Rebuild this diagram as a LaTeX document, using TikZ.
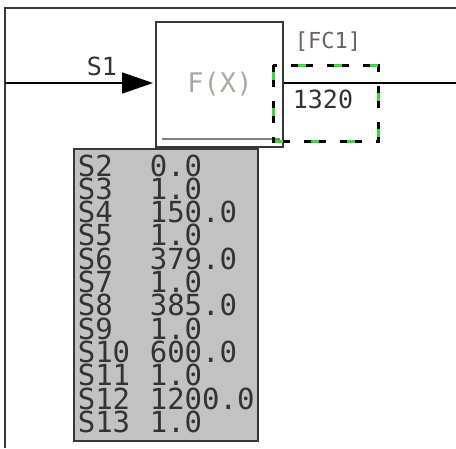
\documentclass[tikz,border=0pt]{standalone}
\usepackage{fontspec}
\newfontfamily\blockmono{DejaVu Sans Mono}
\usetikzlibrary{positioning,arrows.meta}
\definecolor{framegray}{HTML}{383838}
\definecolor{tablegray}{HTML}{C2C2C2}
\definecolor{fxgray}{HTML}{A8AAA0}
\definecolor{taggray}{HTML}{6A6068}
\definecolor{dashgreen}{HTML}{33DD33}
\tikzset{
  monotext/.style={font=\blockmono\fontsize{#1}{#1}\selectfont, inner sep=0pt},
  rowtext/.style={monotext=29, text=black!80, anchor=base west,
                  text height=21pt, text depth=0pt}
}

\begin{document}
\begin{tikzpicture}[x=1pt, y=-1pt, line width=1.6pt]
    \useasboundingbox (0,0) rectangle (456,448);
    % frame
    \draw[framegray, line width=2pt] (5,448) -- (5,8) -- (456,8);

    % function block
    \node[draw=framegray, line width=2pt, minimum width=127pt, minimum height=125pt,
          inner sep=0pt, anchor=north west] (fx) at (155,21) {};
    \node[monotext=27, text=fxgray] (fxlabel) at (220,84) {F(X)};
    \draw[gray, line width=2pt] (162,139) -- (280,139);

    % input and output
    \coordinate (in) at (5,83);
    \coordinate (out) at (456,83);
    \draw[-{Triangle[length=31pt,width=21pt]}, shorten >=2pt] (in) -- (fx.west |- in);
    \node[monotext=25, text=black!80] (s1) at (102,66) {S1};
    \draw (fx.east |- out) -- (out);

    % fc1 tag
    \node[minimum width=104pt, minimum height=75pt, inner sep=0pt,
          anchor=north west] (fc1) at (273,65) {};
    \draw[black, line width=3pt, dash pattern=on 22pt off 14pt] (fc1.north west) rectangle (fc1.south east);
    \draw[dashgreen, line width=3pt, dash pattern=on 8pt off 28pt, dash phase=29pt] (fc1.north west) rectangle (fc1.south east);
    \node[monotext=22, text=taggray] (fctag) at (328,42) {[FC1]};
    \node[monotext=25, text=black!80] (fcval) at (323,99) {1320};

    % parameter table
    \node[draw=framegray, fill=tablegray, line width=2pt, minimum width=184pt,
          minimum height=292pt, inner sep=0pt, anchor=north west] (params) at (73,148) {};
    \draw[framegray, line width=2pt] (fx.south west) -- (fx.south west |- params.north);
    \foreach \pname/\pval [count=\i from 0] in {S2/0.0, S3/1.0, S4/150.0, S5/1.0,
        S6/379.0, S7/1.0, S8/385.0, S9/1.0, S10/600.0, S11/1.0, S12/1200.0, S13/1.0} {
        \node[rowtext] (pname\i) at (77,176+23.3*\i) {\pname};
        \node[rowtext] (pval\i) at (149,176+23.3*\i) {\pval};
    }
\end{tikzpicture}
\end{document}
